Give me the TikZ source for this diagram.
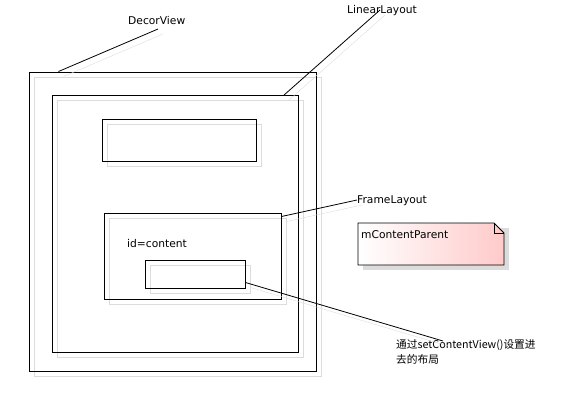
\documentclass[tikz,border=0pt]{standalone}
\usepackage{fontspec}
\setmainfont{DejaVu Sans}
\newfontfamily\cjk{Noto Sans CJK SC}
\usepackage{xcolor}
\definecolor{cLine}{HTML}{000000}
\definecolor{cShade}{HTML}{DCDCDC}
\definecolor{cNote}{HTML}{FFCACA}
\usepackage{tikz}
\usetikzlibrary{positioning,shadows,calc}
\tikzset{
  view-box/.style={draw=cLine,line width=1pt,inner sep=0pt,
    drop shadow={shadow xshift=5pt,shadow yshift=-5pt,fill=none,
      draw=cShade,opacity=1}},
  view-label/.style={inner sep=0pt,anchor=base west},
  view-link/.style={draw=cLine,line width=0.8pt,
    preaction={draw=cShade,transform canvas={shift={(5pt,-5pt)}}}},
  note-box/.style={draw=cLine,line width=0.8pt,left color=white,right color=cNote},
}
\begin{document}
\begin{tikzpicture}[x=1pt,y=-1pt,font=\fontsize{10.7}{15}\selectfont]
  \useasboundingbox (0,0) rectangle (565,410);
  % nested views
  \node[view-box,minimum width=287pt,minimum height=299pt] (decor) at (172.5,221.5) {};
  \node[view-box,minimum width=246pt,minimum height=257pt] (linear) at (175,223.5) {};
  \node[view-box,minimum width=154pt,minimum height=42pt] (title) at (179,140) {};
  \node[view-box,minimum width=177pt,minimum height=86pt] (frame) at (192.5,256) {};
  \node[view-box,minimum width=100pt,minimum height=28pt] (content) at (195,274) {};
  % labels
  \node[view-label] (decor-lbl) at (128,24) {DecorView};
  \node[view-label] (linear-lbl) at (347,13) {LinearLayout};
  \node[view-label] (frame-lbl) at (357,203) {FrameLayout};
  \node[view-label] (id-lbl) at (127,247) {id=content};
  \node[inner sep=0pt,anchor=north west,align=left] (set-lbl) at (396,339)
    {\cjk 通过setContentView()设置进\\\cjk 去的布局};
  % note
  \fill[cShade] (363,228) rectangle (509,270);
  \path[note-box] (358,223) -- (494,223) -- (504,233) -- (504,265) -- (358,265) -- cycle;
  \draw[cLine,line width=0.8pt] (494,223) -- (494,233) -- (504,233);
  \node[view-label] (note) at (361,238) {mContentParent};
  % links
  \draw[view-link] ([xshift=30pt]decor.north west) -- ($(decor-lbl.base west)+(30,5)$);
  \draw[view-link] ($(linear.north east)+(-15,1)$) -- ($(linear-lbl.base west)+(33,-3)$);
  \draw[view-link] ($(frame.north east)+(0,4)$) -- ($(frame-lbl.base west)+(0,-3)$);
  \draw[view-link] ($(content.south east)+(0,-6)$) -- ($(set-lbl.north west)+(47,2)$);
\end{tikzpicture}
\end{document}
